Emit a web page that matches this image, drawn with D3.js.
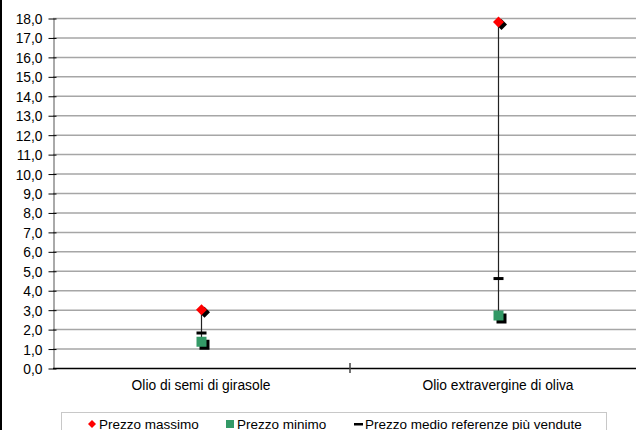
<!DOCTYPE html>
<html>
<head>
<meta charset="utf-8">
<script src="https://cdn.jsdelivr.net/npm/d3@7"></script>
<style>
  html, body { margin: 0; padding: 0; background: #fff; }
  svg { display: block; font-family: "Liberation Sans", Arial, sans-serif; }
</style>
</head>
<body>
<svg id="chart" width="636" height="430"></svg>
<script>
// Price ranges (€/litre) per oil type
const categories = ["Olio di semi di girasole", "Olio extravergine di oliva"];
const prezzoMassimo = [3.0, 17.8];
const prezzoMinimo = [1.35, 2.7];
const prezzoMedio = [1.8, 4.6];
const yTicks = d3.range(0, 18.01, 1);
const legendLabels = ["Prezzo massimo", "Prezzo minimo", "Prezzo medio referenze più vendute"];

const svg = d3.select("#chart");
const W = 636, H = 430;
const margin = { left: 53, top: 18, bottom: 62 };
const plotBottom = H - margin.bottom;
const FONT = "Liberation Sans, Arial, sans-serif";

const x = d3.scaleBand().domain(categories).range([52.5, 646.5]);
const y = d3.scaleLinear().domain([0, 18]).range([plotBottom, margin.top]);
const fmt = v => d3.format(".1f")(v).replace(".", ",");

// outer frame edge on the left
svg.append("line").attr("x1", 1).attr("x2", 1).attr("y1", 0).attr("y2", H)
  .attr("stroke", "#000").attr("stroke-width", 2);

// horizontal gridlines
svg.append("g").selectAll("line").data(yTicks.filter(d => d > 0)).join("line")
  .attr("x1", margin.left).attr("x2", W)
  .attr("y1", d => y(d) + 0.5).attr("y2", d => y(d) + 0.5)
  .attr("stroke", "#a6a6a6").attr("stroke-width", 1.5);

// y axis
const yAxis = svg.append("g").attr("transform", `translate(${margin.left + 0.5},0.5)`)
  .call(d3.axisLeft(y).tickValues(yTicks).tickFormat(fmt).tickSize(5).tickSizeOuter(0));
yAxis.select(".domain").attr("stroke", "#555");
yAxis.selectAll(".tick line").attr("stroke", "#000").attr("x2", 3).attr("x1", -5);
yAxis.selectAll(".tick text").attr("x", -11).attr("dy", "0.36em").attr("font-size", 13.8)
  .attr("font-family", FONT).attr("fill", "#000");

// x axis
const xAxis = svg.append("g").attr("transform", `translate(0,${plotBottom + 0.5})`)
  .call(d3.axisBottom(x).tickSize(0).tickSizeOuter(0));
xAxis.select(".domain").attr("stroke", "#000").attr("stroke-width", 1.5)
  .attr("d", `M${margin.left},0H${W}`);
xAxis.selectAll(".tick text").attr("dy", 0).attr("y", 21).attr("font-size", 13.8)
  .attr("font-family", FONT).attr("fill", "#000");
// category divider tick
svg.append("line")
  .attr("x1", x(categories[1]) + 0.5).attr("x2", x(categories[1]) + 0.5)
  .attr("y1", plotBottom - 5).attr("y2", plotBottom + 5)
  .attr("stroke", "#444").attr("stroke-width", 1.5);

const cx = i => x(categories[i]) + x.bandwidth() / 2;

// high-low lines
svg.append("g").selectAll("line").data(categories).join("line")
  .attr("x1", (d, i) => cx(i) + 0.5).attr("x2", (d, i) => cx(i) + 0.5)
  .attr("y1", (d, i) => y(prezzoMassimo[i])).attr("y2", (d, i) => y(prezzoMinimo[i]))
  .attr("stroke", "#222").attr("stroke-width", 1.2);

const diamond = (s) => `M0,${-s}L${s},0L0,${s}L${-s},0Z`;

// mean markers
svg.append("g").selectAll("rect").data(prezzoMedio).join("rect")
  .attr("x", (d, i) => cx(i) - 4.5).attr("y", d => y(d) - 1.5)
  .attr("width", 10).attr("height", 3).attr("fill", "#000");

// min markers (with shadow)
const minG = svg.append("g");
minG.selectAll("rect.sh").data(prezzoMinimo).join("rect").attr("class", "sh")
  .attr("x", (d, i) => cx(i) - 4.5 + 3).attr("y", d => y(d) - 5 + 3)
  .attr("width", 10).attr("height", 10).attr("fill", "#000");
minG.selectAll("rect.mk").data(prezzoMinimo).join("rect").attr("class", "mk")
  .attr("x", (d, i) => cx(i) - 4.5).attr("y", d => y(d) - 5)
  .attr("width", 10).attr("height", 10).attr("fill", "#339966");

// max markers (with shadow)
const maxG = svg.append("g");
maxG.selectAll("path.sh").data(prezzoMassimo).join("path").attr("class", "sh")
  .attr("transform", (d, i) => `translate(${cx(i) + 3.5},${y(d) + 2.5})`)
  .attr("d", diamond(5.5)).attr("fill", "#000");
maxG.selectAll("path.mk").data(prezzoMassimo).join("path").attr("class", "mk")
  .attr("transform", (d, i) => `translate(${cx(i) + 0.5},${y(d)})`)
  .attr("d", diamond(5.5)).attr("fill", "#ff0000");

// legend
const lg = svg.append("g");
lg.append("rect").attr("x", 61.5).attr("y", 412.5).attr("width", 545).attr("height", 30)
  .attr("fill", "#fff").attr("stroke", "#c8c8c8");
const items = [
  { x: 92, label: legendLabels[0], sym: "diamond" },
  { x: 230, label: legendLabels[1], sym: "square" },
  { x: 358, label: legendLabels[2], sym: "dash" }
];
items.forEach(it => {
  const cy = 424;
  if (it.sym === "diamond") {
    lg.append("path").attr("transform", `translate(${it.x},${cy})`).attr("d", diamond(4)).attr("fill", "#ff0000");
  } else if (it.sym === "square") {
    lg.append("rect").attr("x", it.x - 4).attr("y", cy - 4).attr("width", 8).attr("height", 8).attr("fill", "#339966");
  } else {
    lg.append("rect").attr("x", it.x - 4).attr("y", cy - 1).attr("width", 9).attr("height", 2.5).attr("fill", "#000");
  }
  lg.append("text").attr("x", it.x + 7).attr("y", cy + 4.5).attr("font-size", 13.5)
    .attr("font-family", FONT).attr("fill", "#000").text(it.label);
});
</script>
</body>
</html>
